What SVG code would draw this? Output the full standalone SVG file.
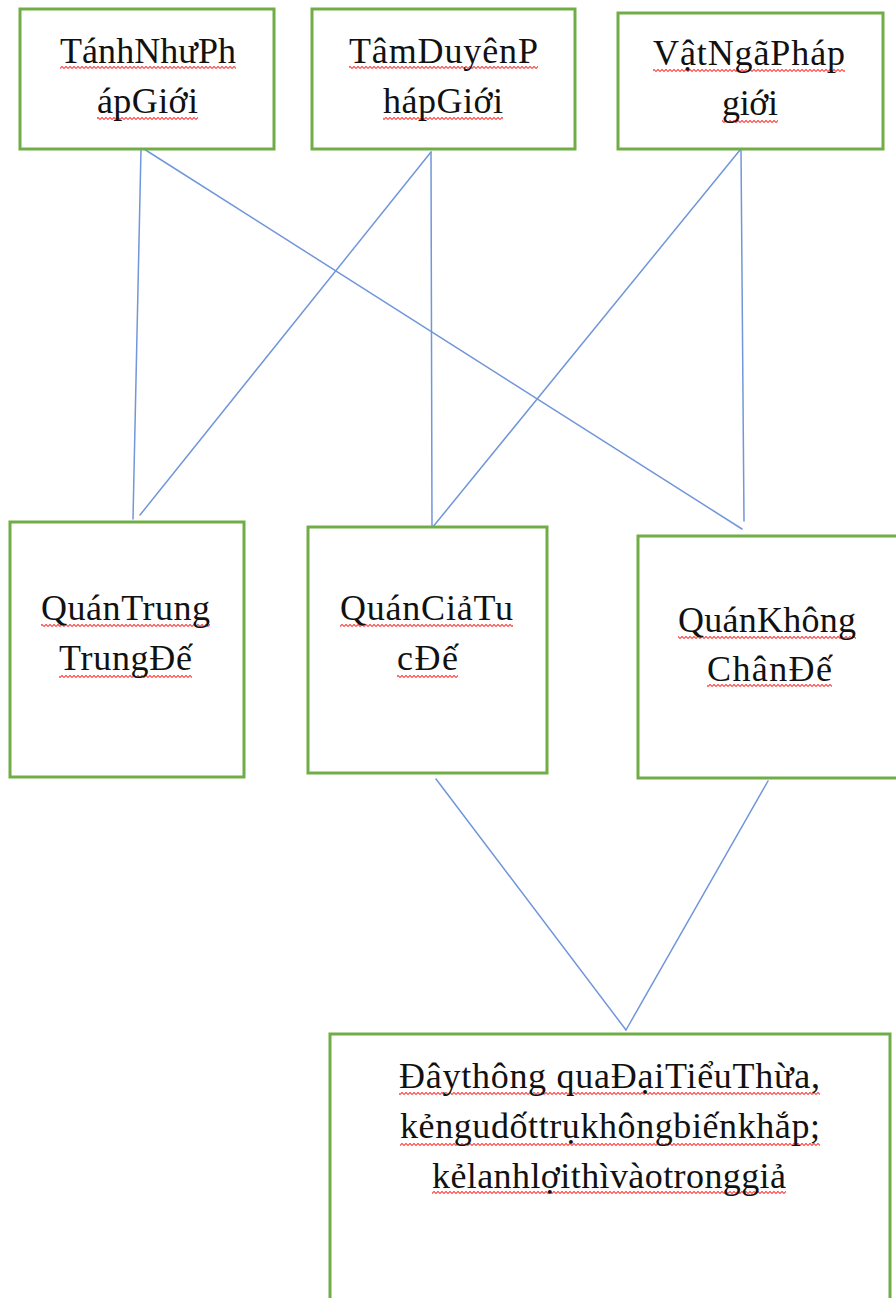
<svg xmlns="http://www.w3.org/2000/svg" width="896" height="1298" viewBox="0 0 896 1298">
<style>
.box{fill:#ffffff;stroke:#70ad47;stroke-width:3}
.lbl{font-family:"Liberation Serif","Times New Roman",serif;font-size:36px;fill:#111111}
.conn{stroke:#7196da;stroke-width:1.5;fill:none;stroke-linecap:round}
.sq{fill:url(#wave)}
</style>
<defs>
<pattern id="wave" width="4" height="3" patternUnits="userSpaceOnUse">
<path d="M0 2.6 L2 0.4 L4 2.6" fill="none" stroke="#ff4040" stroke-width="1.1"/>
</pattern>
</defs>
<rect width="896" height="1298" fill="#ffffff"/>
<g id="connectors">
<path class="conn" d="M141 149 L133 519"/>
<path class="conn" d="M144 149 L742 529"/>
<path class="conn" d="M431 152 L140 515"/>
<path class="conn" d="M431 152 L432 528"/>
<path class="conn" d="M740 150 L432 528"/>
<path class="conn" d="M741 150 L744 521"/>
<path class="conn" d="M436 779 L626 1030"/>
<path class="conn" d="M768 781 L626 1030"/>
</g>
<g id="n1">
<rect class="box" x="20" y="9" width="254" height="140"/>
<rect class="sq" x="60" y="66" width="176" height="3"/>
<rect class="sq" x="97" y="117" width="101" height="3"/>
<text class="lbl" x="60" y="63" textLength="176" lengthAdjust="spacing">TánhNhưPh</text>
<text class="lbl" x="97" y="113" textLength="101" lengthAdjust="spacing">ápGiới</text>
</g>
<g id="n2">
<rect class="box" x="312" y="9" width="263" height="140"/>
<rect class="sq" x="349" y="66" width="189" height="3"/>
<rect class="sq" x="383" y="117" width="120" height="3"/>
<text class="lbl" x="349" y="63" textLength="189" lengthAdjust="spacing">TâmDuyênP</text>
<text class="lbl" x="383" y="113" textLength="120" lengthAdjust="spacing">hápGiới</text>
</g>
<g id="n3">
<rect class="box" x="618" y="13" width="265" height="136"/>
<rect class="sq" x="653" y="69" width="192" height="3"/>
<rect class="sq" x="722" y="120" width="56" height="3"/>
<text class="lbl" x="653" y="65" textLength="192" lengthAdjust="spacing">VậtNgãPháp</text>
<text class="lbl" x="722" y="115" textLength="56" lengthAdjust="spacing">giới</text>
</g>
<g id="n4">
<rect class="box" x="10" y="522" width="234" height="255"/>
<rect class="sq" x="41" y="624" width="169" height="3"/>
<rect class="sq" x="59" y="675" width="133" height="3"/>
<text class="lbl" x="41" y="620" textLength="169" lengthAdjust="spacing">QuánTrung</text>
<text class="lbl" x="59" y="670" textLength="133" lengthAdjust="spacing">TrungĐế</text>
</g>
<g id="n5">
<rect class="box" x="308" y="527" width="239" height="246"/>
<rect class="sq" x="340" y="624" width="173" height="3"/>
<rect class="sq" x="397" y="675" width="61" height="3"/>
<text class="lbl" x="340" y="620" textLength="173" lengthAdjust="spacing">QuánCiảTu</text>
<text class="lbl" x="397" y="670" textLength="61" lengthAdjust="spacing">cĐế</text>
</g>
<g id="n6">
<rect class="box" x="638" y="536" width="262" height="242"/>
<rect class="sq" x="678" y="636" width="178" height="3"/>
<rect class="sq" x="707" y="684" width="125" height="3"/>
<text class="lbl" x="678" y="632" textLength="178" lengthAdjust="spacing">QuánKhông</text>
<text class="lbl" x="707" y="681" textLength="125" lengthAdjust="spacing">ChânĐế</text>
</g>
<g id="n7">
<rect class="box" x="330" y="1034" width="560" height="280"/>
<rect class="sq" x="399" y="1092" width="421" height="3"/>
<rect class="sq" x="400" y="1143" width="420" height="3"/>
<rect class="sq" x="432" y="1191" width="354" height="3"/>
<text class="lbl" x="399" y="1088" textLength="421" lengthAdjust="spacing">Đâythông quaĐạiTiểuThừa,</text>
<text class="lbl" x="400" y="1138" textLength="420" lengthAdjust="spacing">kẻngudốttrụkhôngbiếnkhắp;</text>
<text class="lbl" x="432" y="1188" textLength="354" lengthAdjust="spacing">kẻlanhlợithìvàotronggiả</text>
</g>
</svg>
